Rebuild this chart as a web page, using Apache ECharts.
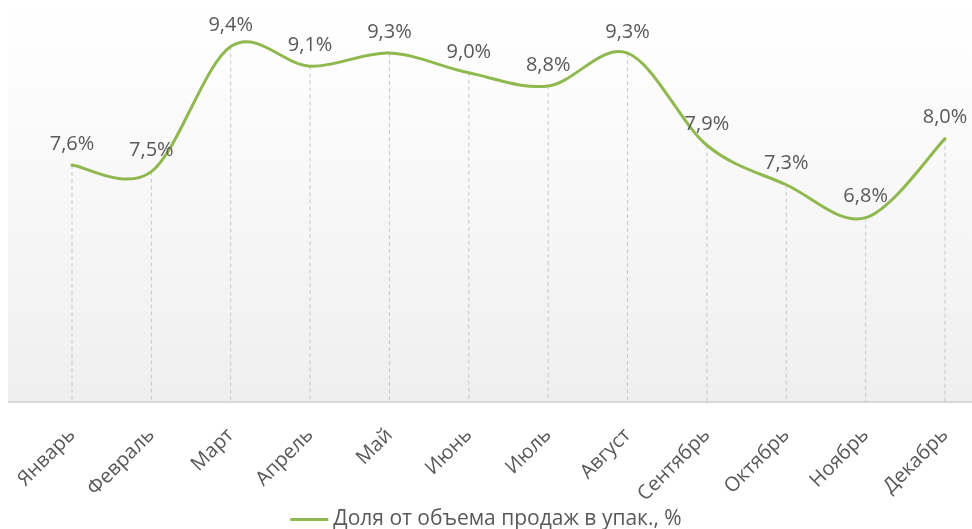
<!DOCTYPE html>
<html>
<head>
<meta charset="utf-8">
<script src="https://cdn.jsdelivr.net/npm/echarts@6/dist/echarts.min.js"></script>
<style>
  html, body { margin: 0; padding: 0; background: #fff; }
  #chart { width: 972px; height: 529px; }
</style>
</head>
<body>
<div id="chart"></div>
<script>
// месяцы и доля от объема продаж
var months = ['Январь', 'Февраль', 'Март', 'Апрель', 'Май', 'Июнь', 'Июль', 'Август', 'Сентябрь', 'Октябрь', 'Ноябрь', 'Декабрь'];
var share = [7.6, 7.5, 9.4, 9.1, 9.3, 9.0, 8.8, 9.3, 7.9, 7.3, 6.8, 8.0];
var seriesName = 'Доля от объема продаж в упак., %';

var yMin = 4;
var yMax = 10;
var textColor = '#595959';
var green = '#8fb84e';
var font = 'Open Sans';

var chart = echarts.init(document.getElementById('chart'));

function fmt(v) {
    return v.toFixed(1).replace('.', ',') + '%';
}

// сглаженная линия как в Excel (Catmull-Rom -> Bezier)
function smoothPath(pts) {
    var d = 'M' + pts[0][0] + ' ' + pts[0][1];
    for (var i = 0; i < pts.length - 1; i++) {
        var p0 = pts[i - 1] || pts[i];
        var p1 = pts[i];
        var p2 = pts[i + 1];
        var p3 = pts[i + 2] || pts[i + 1];
        var c1x = p1[0] + (p2[0] - p0[0]) / 6;
        var c1y = p1[1] + (p2[1] - p0[1]) / 6;
        var c2x = p2[0] - (p3[0] - p1[0]) / 6;
        var c2y = p2[1] - (p3[1] - p1[1]) / 6;
        d += ' C' + c1x + ' ' + c1y + ' ' + c2x + ' ' + c2y + ' ' + p2[0] + ' ' + p2[1];
    }
    return d;
}

function renderItem(params, api) {
    var i = params.dataIndex;
    var pt = api.coord([i, share[i]]);
    var base = api.coord([i, yMin]);
    var children = [{
        type: 'line',
        z2: 1,
        shape: { x1: pt[0], y1: pt[1], x2: base[0], y2: base[1] },
        style: { stroke: '#c8c8c8', lineWidth: 1, lineDash: [4, 3] }
    }, {
        type: 'text',
        z2: 10,
        style: {
            text: fmt(share[i]),
            x: pt[0],
            y: pt[1] - 11,
            align: 'center',
            verticalAlign: 'bottom',
            fill: textColor,
            fontSize: 20,
            fontFamily: font
        }
    }];
    if (i === 0) {
        var pts = share.map(function (v, k) { return api.coord([k, v]); });
        children.push({
            type: 'path',
            z2: 5,
            shape: { pathData: smoothPath(pts) },
            style: { stroke: green, lineWidth: 3, fill: null, lineJoin: 'round', lineCap: 'round' }
        });
    }
    return { type: 'group', children: children };
}

var option = {
    animation: false,
    textStyle: { fontFamily: font },
    graphic: [
        {
            type: 'rect',
            z: -10,
            shape: { x: 8, y: 0, width: 964, height: 402 },
            style: {
                fill: new echarts.graphic.LinearGradient(0, 0, 0, 1, [
                    { offset: 0, color: '#ffffff' },
                    { offset: 0.15, color: '#fdfdfd' },
                    { offset: 1, color: '#efefef' }
                ])
            }
        },
        {
            type: 'line',
            z: -5,
            shape: { x1: 8, y1: 402, x2: 972, y2: 402 },
            style: { stroke: '#d9d9d9', lineWidth: 2 }
        }
    ],
    grid: { left: 72, right: 27, top: 7, bottom: 127, containLabel: false },
    legend: {
        top: 504,
        left: 'center',
        itemWidth: 38,
        itemHeight: 3,
        itemGap: 5,
        textStyle: { color: textColor, fontSize: 21, fontFamily: font },
        data: [{ name: seriesName, icon: 'rect', itemStyle: { color: green } }]
    },
    xAxis: {
        type: 'category',
        data: months,
        boundaryGap: false,
        axisLine: { show: false },
        axisTick: { show: false },
        splitLine: { show: false },
        axisLabel: {
            rotate: 45,
            margin: 30,
            color: textColor,
            fontSize: 20,
            fontFamily: font
        }
    },
    yAxis: {
        type: 'value',
        min: yMin,
        max: yMax,
        show: false,
        splitLine: { show: false }
    },
    series: [{
        name: seriesName,
        type: 'custom',
        itemStyle: { color: green },
        renderItem: renderItem,
        data: share.map(function (v, i) { return [i, v]; }),
        encode: { x: 0, y: 1 }
    }]
};

chart.setOption(option);
</script>
</body>
</html>
